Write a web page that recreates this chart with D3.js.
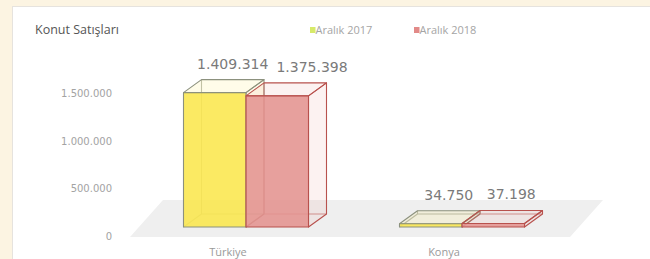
<!DOCTYPE html>
<html lang="tr">
<head>
<meta charset="UTF-8">
<title>Konut Satışları</title>
<script src="https://d3js.org/d3.v7.min.js"></script>
<style>
  body { margin: 0; background: #fcf4e2; }
  svg { display: block; }
</style>
</head>
<body>
<script>
  const categories = ["Türkiye", "Konya"]
  const series = ["Aralık 2017", "Aralık 2018"]
  const values2017 = [1409314, 34750]
  const values2018 = [1375398, 37198]
  const yTicks = [0, 500000, 1000000, 1500000]

  const fills = ["#fbe74d", "#e4938f"]
  const strokes = ["#8c917e", "#b8514d"]
  const legendFills = ["#d7ea6a", "#e28a88"]

  const W = 650, H = 259
  const depth = {dx: 18, dy: -13}
  const frontLift = 10

  const tr = d3.formatLocale({decimal: ",", thousands: ".", grouping: [3], currency: ["", ""]})
  const fmt = tr.format(",d")

  const svg = d3.select("body").append("svg")
    .attr("width", W).attr("height", H)

  // white panel
  svg.append("rect")
    .attr("x", 12.5).attr("y", 6.5)
    .attr("width", W).attr("height", H)
    .attr("fill", "#fff").attr("stroke", "#e6e3de")

  svg.append("text")
    .attr("x", 35).attr("y", 34)
    .attr("font-family", "Open Sans, sans-serif")
    .attr("font-size", 12.5).attr("fill", "#555")
    .text("Konut Satışları")

  // legend
  const legend = svg.append("g").attr("font-family", "Open Sans, sans-serif")
    .selectAll("g").data(series).join("g")
    .attr("transform", (d, i) => `translate(${310 + i * 104},27)`)
  legend.append("rect").attr("width", 5.5).attr("height", 6)
    .attr("fill", (d, i) => legendFills[i])
  legend.append("text").attr("x", 5.5).attr("y", 6.5)
    .attr("font-size", 11).attr("fill", "#a5a5a5").text(d => d)

  const y = d3.scaleLinear().domain([0, 1500000]).range([237, 94])
  const x0 = d3.scaleBand().domain(categories).range([138, 570])
  const x1 = d3.scaleBand().domain(series).range([0, 125])
  const groupOff = (x0.bandwidth() - 125) / 2

  // y axis labels
  svg.append("g").selectAll("text").data(yTicks).join("text")
    .attr("x", 112).attr("y", d => y(d) + 3)
    .attr("text-anchor", "end")
    .attr("font-family", "DejaVu Sans, sans-serif")
    .attr("font-size", 10).attr("fill", "#a3a3a3")
    .text(d => fmt(d))

  // floor
  const fy0 = y(0), fy1 = y(0) - 37
  svg.append("polygon")
    .attr("points", [[x0.range()[0] - 8, fy0], [x0.range()[0] + 25, fy1],
                     [x0.range()[1] + 33, fy1], [x0.range()[1], fy0]].join(" "))
    .attr("fill", "#efefef")

  // category labels
  svg.append("g").selectAll("text").data(categories).join("text")
    .attr("x", d => x0(d) + x0.bandwidth() / 2 - 18).attr("y", 256)
    .attr("text-anchor", "middle")
    .attr("font-family", "Open Sans, sans-serif")
    .attr("font-size", 11).attr("fill", "#9a9a9a")
    .text(d => d)

  const bars = []
  categories.forEach((c, ci) => {
    [values2017, values2018].forEach((vals, si) => {
      bars.push({cat: c, s: series[si], si: si, v: vals[ci]})
    })
  })

  const g = svg.append("g")
  const {dx, dy} = depth
  bars.forEach(b => {
    const xa = x0(b.cat) + groupOff + x1(b.s)
    const xb = xa + x1.bandwidth()
    const yb = y(0) - frontLift
    const yt = y(b.v) - frontLift
    const sc = strokes[b.si]
    const bg = g.append("g").attr("stroke", sc).attr("stroke-width", 1.1)
      .attr("stroke-linejoin", "round")
    // hidden edges
    bg.append("path")
      .attr("d", `M${xa + dx},${yt + dy}V${yb + dy}H${xb + dx}M${xa},${yb}L${xa + dx},${yb + dy}`)
      .attr("fill", "none").attr("stroke-opacity", 0.6)
    // side + top
    bg.append("polygon")
      .attr("points", [[xb, yb], [xb + dx, yb + dy], [xb + dx, yt + dy], [xb, yt]].join(" "))
      .attr("fill", fills[b.si]).attr("fill-opacity", 0.12)
    bg.append("polygon")
      .attr("points", [[xa, yt], [xb, yt], [xb + dx, yt + dy], [xa + dx, yt + dy]].join(" "))
      .attr("fill", fills[b.si]).attr("fill-opacity", 0.12)
    // front
    bg.append("rect")
      .attr("x", xa).attr("y", yt).attr("width", xb - xa).attr("height", yb - yt)
      .attr("fill", fills[b.si]).attr("fill-opacity", 0.88)
    b.lx = (xa + xb) / 2 + dx
    b.ly = yt + dy - 11
  })

  // value labels, pushed apart when they collide
  const lab = svg.append("g")
    .attr("font-family", "DejaVu Sans, sans-serif")
    .attr("font-size", 14).attr("fill", "#7a7a7a")
    .attr("text-anchor", "middle")
  let prev = null
  bars.forEach(b => {
    const t = lab.append("text").attr("x", b.lx).attr("y", b.ly).text(fmt(b.v))
    const w = t.node().getComputedTextLength()
    if (prev && prev.cat === b.cat) {
      const minX = prev.lx + prev.w / 2 + w / 2 + 8
      if (b.lx < minX) { b.lx = minX; t.attr("x", b.lx) }
    }
    b.w = w
    prev = b
  })
</script>
</body>
</html>
